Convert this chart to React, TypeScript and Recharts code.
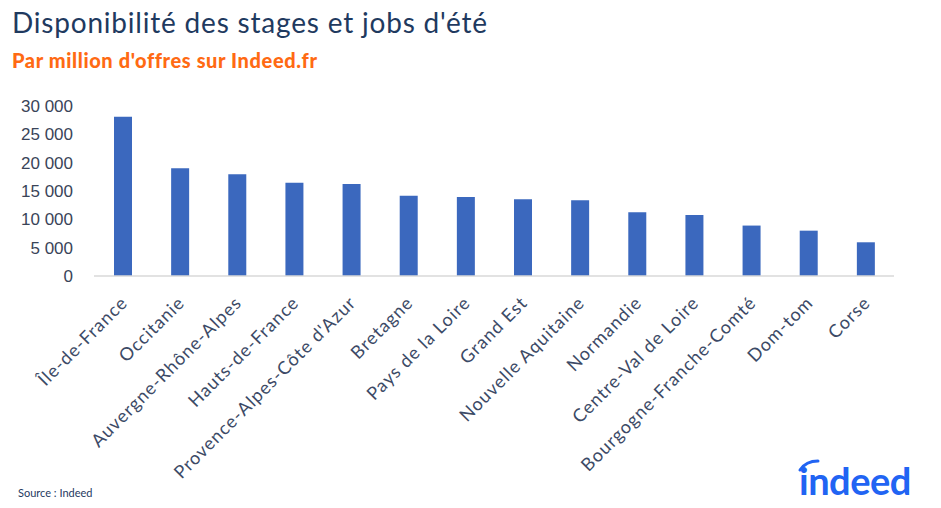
import React from 'react';
import { BarChart, Bar, XAxis, YAxis } from 'recharts';

const regions = [
  'Île-de-France',
  'Occitanie',
  'Auvergne-Rhône-Alpes',
  'Hauts-de-France',
  "Provence-Alpes-Côte d'Azur",
  'Bretagne',
  'Pays de la Loire',
  'Grand Est',
  'Nouvelle Aquitaine',
  'Normandie',
  'Centre-Val de Loire',
  'Bourgogne-Franche-Comté',
  'Dom-tom',
  'Corse',
];

const offresParMillion = [28100, 19000, 17950, 16450, 16250, 14150, 13950, 13550, 13350, 11250, 10750, 8900, 8000, 5950];

const yTicks = [0, 5000, 10000, 15000, 20000, 25000, 30000];

const data = regions.map((name, i) => ({ name, value: offresParMillion[i] }));

const formatNumber = (v: number) => String(v).replace(/\B(?=(\d{3})+(?!\d))/g, ' ');

const labelColor = '#3c4a66';

const RotatedTick = (props: any) => {
  const { x, y, payload } = props;
  const ax = x + 6;
  const ay = y + 20;
  return (
    <text
      x={ax}
      y={ay}
      textAnchor="end"
      transform={`rotate(-45, ${ax}, ${ay})`}
      fill={labelColor}
      fontFamily="Lato, sans-serif"
      fontSize={18}
      letterSpacing={1}
    >
      {payload.value}
    </text>
  );
};

export default function App() {
  return (
    <div
      style={{
        position: 'fixed',
        left: 0,
        top: 0,
        width: 941,
        height: 508,
        background: '#fff',
        overflow: 'hidden',
      }}
    >
      <div
        style={{
          position: 'absolute',
          left: 12,
          top: 8,
          fontFamily: 'Lato, sans-serif',
          fontSize: 28,
          lineHeight: '28px',
          color: '#1f3a5f',
          letterSpacing: 0.8,
          whiteSpace: 'nowrap',
        }}
      >
        Disponibilité des stages et jobs d'été
      </div>
      <div
        style={{
          position: 'absolute',
          left: 12,
          top: 51,
          fontFamily: 'Lato, sans-serif',
          fontWeight: 900,
          fontSize: 20,
          lineHeight: '19px',
          color: '#ff6a13',
          letterSpacing: 0.6,
          whiteSpace: 'nowrap',
        }}
      >
        Par million d'offres sur Indeed.fr
      </div>

      <div style={{ position: 'absolute', left: 0, top: 0 }}>
        <BarChart
          width={941}
          height={508}
          data={data}
          margin={{ top: 106, right: 47, bottom: 0, left: 14 }}
          barCategoryGap={0}
        >
          <XAxis
            dataKey="name"
            interval={0}
            height={232}
            tickLine={false}
            axisLine={{ stroke: '#d9d9d9', strokeWidth: 1.5 }}
            tick={<RotatedTick />}
          />
          <YAxis
            width={80}
            domain={[0, 30000]}
            ticks={yTicks}
            tickFormatter={formatNumber}
            axisLine={false}
            tickLine={false}
            tickSize={0}
            tickMargin={21}
            tick={{ fill: '#3a4458', fontSize: 17, fontFamily: 'Liberation Sans, Arial, sans-serif' }}
          />
          <Bar dataKey="value" fill="#3b68be" barSize={18} isAnimationActive={false} />
        </BarChart>
      </div>

      <div
        style={{
          position: 'absolute',
          left: 18,
          top: 487,
          fontFamily: 'Lato, sans-serif',
          fontSize: 11,
          lineHeight: '11px',
          color: '#1f3a5f',
        }}
      >
        Source : Indeed
      </div>

      <svg style={{ position: 'absolute', left: 790, top: 455 }} width={40} height={20}>
        <path d="M 10 15 Q 16 6 28 6" stroke="#2164f3" strokeWidth={3} fill="none" strokeLinecap="round" />
      </svg>
      <div
        style={{
          position: 'absolute',
          left: 799,
          top: 461,
          fontFamily: 'Lato, sans-serif',
          fontWeight: 700,
          fontSize: 38,
          lineHeight: '38px',
          color: '#2164f3',
          letterSpacing: -0.5,
        }}
      >
        indeed
      </div>
    </div>
  );
}
